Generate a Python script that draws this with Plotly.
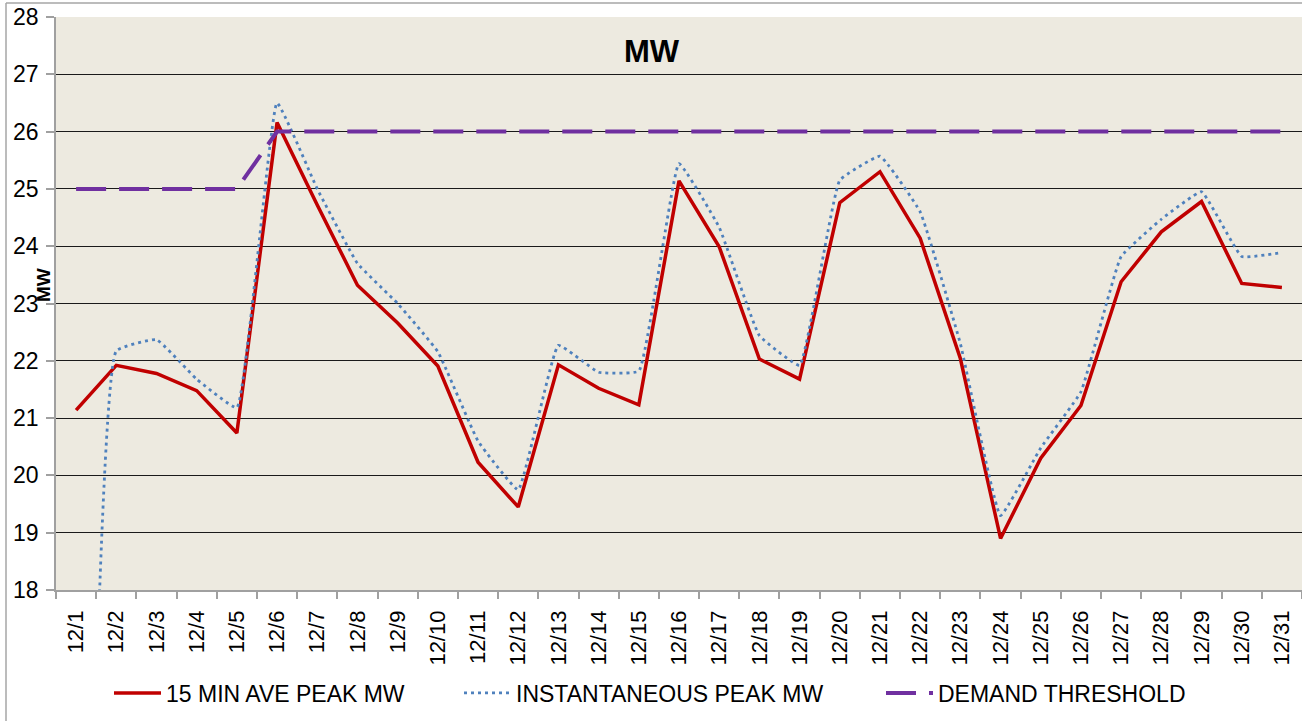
import plotly.graph_objects as go

dates = ["12/1", "12/2", "12/3", "12/4", "12/5", "12/6", "12/7", "12/8", "12/9", "12/10",
         "12/11", "12/12", "12/13", "12/14", "12/15", "12/16", "12/17", "12/18", "12/19", "12/20",
         "12/21", "12/22", "12/23", "12/24", "12/25", "12/26", "12/27", "12/28", "12/29", "12/30", "12/31"]

peak_15min = [21.14, 21.92, 21.78, 21.48, 20.74, 26.16, 24.72, 23.32, 22.66, 21.91,
              20.23, 19.45, 21.93, 21.52, 21.23, 25.14, 23.99, 22.03, 21.68, 24.76,
              25.30, 24.14, 22.04, 18.90, 20.30, 21.22, 23.38, 24.25, 24.78, 23.35, 23.28]

peak_inst = [0.0, 22.17, 22.37, 21.68, 21.18, 26.50, 25.00, 23.70, 23.00, 22.16,
             20.60, 19.75, 22.27, 21.80, 21.82, 25.44, 24.33, 22.44, 21.92, 25.15,
             25.57, 24.60, 22.30, 19.30, 20.48, 21.46, 23.82, 24.47, 24.95, 23.82, 23.89]

threshold = [25, 25, 25, 25, 25, 26, 26, 26, 26, 26,
             26, 26, 26, 26, 26, 26, 26, 26, 26, 26,
             26, 26, 26, 26, 26, 26, 26, 26, 26, 26, 26]

W, H = 1302, 721
L, R, T, B = 56, 1302, 17, 590


def px_x(p):
    return (p - L) / (R - L)


def px_y(p):
    return (B - p) / (B - T)


FONT = "Arial, Liberation Sans, sans-serif"
LEG_FONT = dict(family=FONT, size=23, color="black")


def legend_at(xpix):
    return dict(orientation="h", x=px_x(xpix), xanchor="left", y=px_y(693), yanchor="middle",
                font=LEG_FONT, bgcolor="rgba(0,0,0,0)", itemwidth=47)


fig = go.Figure()
fig.add_trace(go.Scatter(x=dates, y=peak_15min, mode="lines", name="15 MIN AVE PEAK MW",
                         line=dict(color="#C00000", width=3.5), legend="legend"))
fig.add_trace(go.Scatter(x=dates, y=peak_inst, mode="lines", name="INSTANTANEOUS PEAK MW",
                         line=dict(color="#4F81BD", width=2.8, dash="3px,4px", shape="spline", smoothing=0.3),
                         legend="legend2"))
fig.add_trace(go.Scatter(x=dates, y=threshold, mode="lines", name="DEMAND THRESHOLD",
                         line=dict(color="#7030A0", width=4, dash="30px,13px"), legend="legend3"))

fig.update_layout(
    width=W, height=H, autosize=False,
    margin=dict(l=L, r=W - R, t=T, b=H - B, pad=0, autoexpand=False),
    paper_bgcolor="white",
    plot_bgcolor="#EDEAE0",
    font=dict(family=FONT, color="black"),
    showlegend=True,
    legend=legend_at(109),
    legend2=legend_at(459),
    legend3=legend_at(881),
    xaxis=dict(type="category", tickangle=-90, tickson="boundaries", ticks="outside",
               ticklen=7, tickcolor="#A0A0A0", tickwidth=1.5, automargin=False,
               ticklabelstandoff=10,
               showline=True, linecolor="#A0A0A0", linewidth=1.5, showgrid=False,
               tickfont=dict(family=FONT, size=22, color="black"),
               range=[-0.5, 30.5], zeroline=False),
    yaxis=dict(range=[18, 28], dtick=1, tick0=18, ticks="outside", ticklen=8,
               tickcolor="#A0A0A0", tickwidth=1.5, automargin=False,
               ticklabelstandoff=3,
               showline=True, linecolor="#A0A0A0", linewidth=1.5,
               showgrid=True, gridcolor="#1a1a1a", gridwidth=1.3,
               tickfont=dict(family=FONT, size=23, color="black"),
               zeroline=False),
    shapes=[
        dict(type="line", xref="paper", yref="paper", x0=px_x(6), x1=px_x(1302), y0=px_y(3), y1=px_y(3),
             line=dict(color="#A6A6A6", width=1.5)),
        dict(type="line", xref="paper", yref="paper", x0=px_x(6), x1=px_x(6), y0=px_y(3), y1=px_y(721),
             line=dict(color="#A6A6A6", width=1.5)),
    ],
    annotations=[
        dict(text="<b>MW</b>", xref="paper", yref="paper", x=px_x(652), y=px_y(52),
             showarrow=False, font=dict(family=FONT, size=31, color="black"),
             xanchor="center", yanchor="middle"),
        dict(text="<b>MW</b>", xref="paper", yref="paper", x=px_x(43), y=px_y(285),
             showarrow=False, textangle=-90, font=dict(family=FONT, size=19, color="black"),
             xanchor="center", yanchor="middle"),
    ],
)

fig.write_html("out.html",
               config={"displayModeBar": False},
               post_script="document.body.style.margin='0';document.body.style.overflow='hidden';")
